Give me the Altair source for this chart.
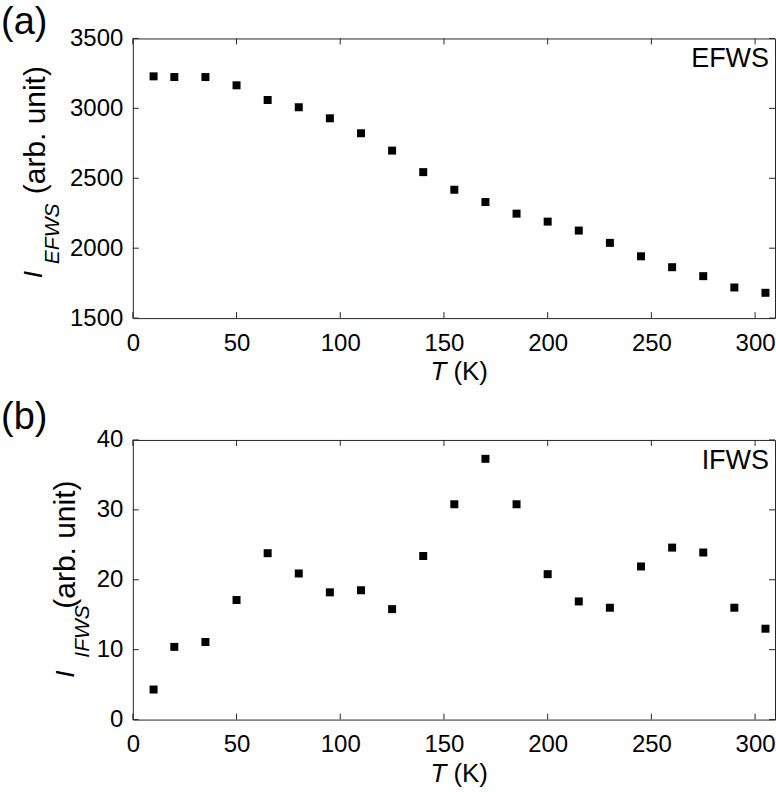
import altair as alt
import pandas as pd

# ---- data ----
T = [10, 20, 35, 50, 65, 80, 95, 110, 125, 140, 155, 170, 185, 200, 215, 230, 245, 260, 275, 290, 305]
I_EFWS = [3229, 3224, 3224, 3165, 3060, 3008, 2929, 2822, 2698, 2544, 2418, 2330, 2247, 2190,
          2126, 2038, 1942, 1864, 1800, 1719, 1681]
I_IFWS = [4.3, 10.4, 11.1, 17.1, 23.8, 20.9, 18.2, 18.5, 15.8, 23.4, 30.8, 37.3, 30.8, 20.8,
          16.9, 16.0, 21.9, 24.6, 23.9, 16.0, 13.0]
X_TICKS = [0, 50, 100, 150, 200, 250, 300]
Y_TICKS_A = [1500, 2000, 2500, 3000, 3500]
Y_TICKS_B = [0, 10, 20, 30, 40]
X_DOMAIN = [0, 309.6]
Y_DOMAIN_A = [1500, 3500]
Y_DOMAIN_B = [0, 40]

W, H = 643, 280
FONT = "Liberation Sans"
INK = "#262626"
TICK = 6


def txt(s, **kw):
    return alt.Chart(pd.DataFrame({"t": [s]})).mark_text(font=FONT, color="black", **kw)


def panel(values, ydomain, yticks, tag, tag_y, sub, inset, ytl):
    df = pd.DataFrame({"T": T, "I": values})
    xs = alt.Scale(domain=X_DOMAIN, nice=False, zero=False)
    ys = alt.Scale(domain=ydomain, nice=False, zero=False)
    xaxis = alt.Axis(values=X_TICKS, ticks=False, domain=False, grid=False, title=None,
                     labelFontSize=24, labelFont=FONT, labelColor="black", labelPadding=13,
                     labelFlush=False, format="d")
    yaxis = alt.Axis(values=yticks, ticks=False, domain=False, grid=False, title=None,
                     labelFontSize=24, labelFont=FONT, labelColor="black", labelPadding=10,
                     format="d")
    pts = alt.Chart(df).mark_square(size=64, color="black", opacity=1).encode(
        x=alt.X("T:Q", scale=xs, axis=xaxis),
        y=alt.Y("I:Q", scale=ys, axis=yaxis),
    )
    xt = pd.DataFrame({"v": X_TICKS})
    yt = pd.DataFrame({"v": yticks})
    bottom = alt.Chart(xt).mark_rule(color=INK, strokeWidth=1).encode(
        x=alt.X("v:Q", scale=xs, axis=xaxis), y=alt.value(H), y2=alt.value(H - TICK))
    top = alt.Chart(xt).mark_rule(color=INK, strokeWidth=1).encode(
        x=alt.X("v:Q", scale=xs, axis=xaxis), y=alt.value(0), y2=alt.value(TICK))
    left = alt.Chart(yt).mark_rule(color=INK, strokeWidth=1).encode(
        y=alt.Y("v:Q", scale=ys, axis=yaxis), x=alt.value(0), x2=alt.value(TICK))
    right = alt.Chart(yt).mark_rule(color=INK, strokeWidth=1).encode(
        y=alt.Y("v:Q", scale=ys, axis=yaxis), x=alt.value(W - TICK), x2=alt.value(W))

    # panel tag
    tag_t = txt(tag, fontSize=38, align="left", baseline="alphabetic").encode(
        text="t:N", x=alt.value(-132), y=alt.value(tag_y))
    # inset label
    inset_t = txt(inset, fontSize=27, align="right", baseline="alphabetic").encode(
        text="t:N", x=alt.value(W - 6), y=alt.value(29))
    # x title: italic T + (K)
    xt1 = txt("T", fontSize=26, fontStyle="italic", align="left", baseline="alphabetic").encode(
        text="t:N", x=alt.value(298), y=alt.value(H + 62))
    xt2 = txt("(K)", fontSize=26, align="left", baseline="alphabetic").encode(
        text="t:N", x=alt.value(321), y=alt.value(H + 62))
    # y title: I_sub (arb. unit), rotated
    bx, by, sx, sy, ax, ay = ytl
    yt1 = txt("I", fontSize=26, fontStyle="italic", angle=270, align="left",
              baseline="alphabetic").encode(text="t:N", x=alt.value(bx), y=alt.value(by))
    yt2 = txt(sub, fontSize=21, fontStyle="italic", angle=270, align="left",
              baseline="alphabetic").encode(text="t:N", x=alt.value(sx), y=alt.value(sy))
    yt3 = txt("(arb. unit)", fontSize=30, angle=270, align="left",
              baseline="alphabetic").encode(text="t:N", x=alt.value(ax), y=alt.value(ay))

    return alt.layer(pts, bottom, top, left, right, tag_t, inset_t, xt1, xt2, yt1, yt2, yt3
                     ).properties(width=W, height=H)


pa = panel(I_EFWS, Y_DOMAIN_A, Y_TICKS_A, "(a)", -4, "EFWS", "EFWS",
           (-91, 240, -74, 226, -88, 156))
pb = panel(I_IFWS, Y_DOMAIN_B, Y_TICKS_B, "(b)", -11, "IFWS", "IFWS",
           (-59, 238, -44, 218, -58, 169))

chart = alt.vconcat(pa, pb, spacing=122, bounds="flush").properties(
    padding={"left": 0, "top": 3, "right": 0, "bottom": 0},
    background="white",
).configure_view(stroke=INK, strokeWidth=1)

chart.save("out.html", embed_options={"renderer": "svg", "actions": False})
